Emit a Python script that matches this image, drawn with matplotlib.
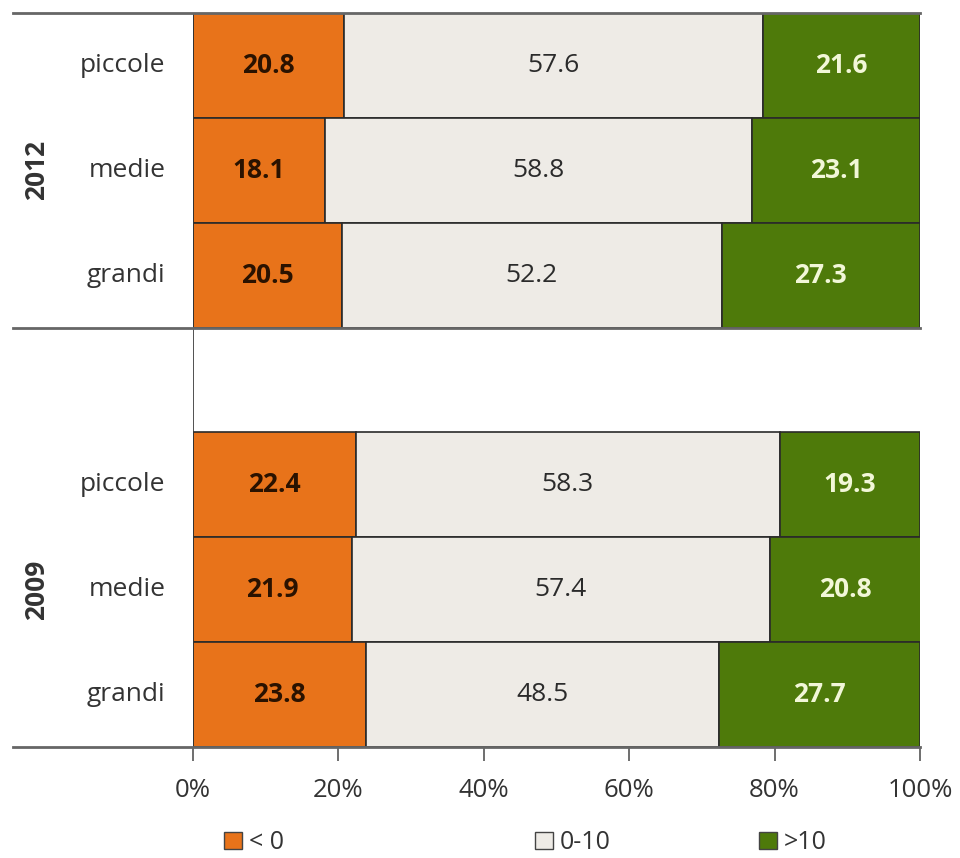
import matplotlib.pyplot as plt
from matplotlib.patches import Patch

# data
years = ["2012", "2009"]
sizes = ["piccole", "medie", "grandi"]
neg = {"2012": [20.8, 18.1, 20.5], "2009": [22.4, 21.9, 23.8]}
mid = {"2012": [57.6, 58.8, 52.2], "2009": [58.3, 57.4, 48.5]}
pos = {"2012": [21.6, 23.1, 27.3], "2009": [19.3, 20.8, 27.7]}
series_labels = ["< 0", "0-10", ">10"]
ticks = [0, 20, 40, 60, 80, 100]

colors = ["#E8731A", "#EEEBE6", "#4E7A0A"]
text_colors = ["#2a1200", "#2b2b2b", "#F2F7D8"]
weights = ["bold", "normal", "bold"]
edge = "#2a2a2a"
font = ["Open Sans", "DejaVu Sans"]

fig = plt.figure(figsize=(9.6, 8.58), dpi=100)
ax = fig.add_axes([193 / 960, 1 - 747 / 858, (920 - 193) / 960, (747 - 13) / 858])

# y positions: 2012 on top, empty slot, then 2009
ypos = {"2012": [6.5, 5.5, 4.5], "2009": [2.5, 1.5, 0.5]}

for yr in years:
    for i, s in enumerate(sizes):
        vals = [neg[yr][i], mid[yr][i], pos[yr][i]]
        left = 0
        for k, v in enumerate(vals):
            ax.barh(ypos[yr][i], v, left=left, height=1.0, color=colors[k],
                    edgecolor=edge, linewidth=1.2, zorder=2)
            ax.text(left + v / 2, ypos[yr][i], f"{v:.1f}", ha="center", va="center",
                    fontsize=19, fontweight=weights[k], color=text_colors[k],
                    family=font, zorder=3)
            left += v
        ax.text(-3.8, ypos[yr][i], s, ha="right", va="center", fontsize=19,
                color="#333333", family=font)
    ax.text(-21.5, sum(ypos[yr]) / 3, yr, ha="center", va="center", rotation=90,
            fontsize=19, fontweight="bold", color="#333333", family=font)

ax.set_xlim(0, 100)
ax.set_ylim(0, 7)

# horizontal separators extending into label area
for y in [7, 4, 0]:
    ax.plot([-24.7, 100], [y, y], color="#666666", linewidth=2, clip_on=False, zorder=4)

for sp in ax.spines.values():
    sp.set_visible(False)
ax.set_yticks([])
ax.set_xticks(ticks)
ax.set_xticklabels([f"{t}%" for t in ticks], fontsize=18.5, color="#333333", family=font)
ax.tick_params(axis="x", length=10, width=1.2, color="#555555", pad=12)
ax.axvline(0, color="#333333", linewidth=1.2, zorder=3)

# legend entries placed separately to match spacing
leg_x = [0.265, 0.597, 0.826]
for k in range(3):
    lg = fig.legend(handles=[Patch(facecolor=colors[k], edgecolor="#444444", linewidth=1.0)],
                    labels=[series_labels[k]], loc="center", bbox_to_anchor=(leg_x[k], 0.018),
                    frameon=False, handlelength=0.7, handleheight=0.7, handletextpad=0.3,
                    prop={"family": font, "size": 18})
    for t in lg.get_texts():
        t.set_color("#333333")

fig.savefig("out.png", dpi=100)
